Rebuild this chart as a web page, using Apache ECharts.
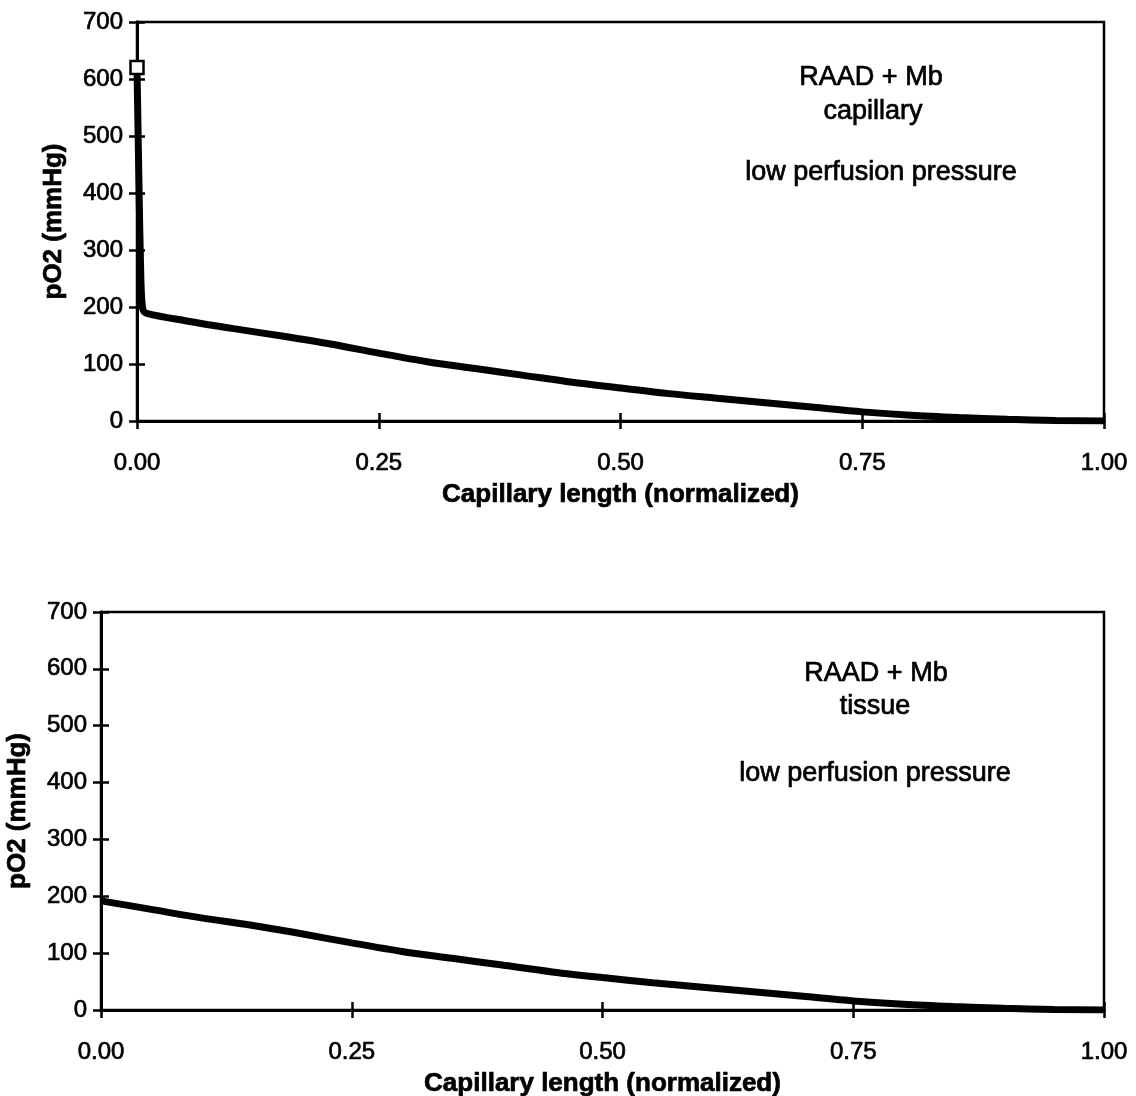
<!DOCTYPE html>
<html>
<head>
<meta charset="utf-8">
<title>pO2 along capillary</title>
<script src="https://cdn.jsdelivr.net/npm/echarts@6/dist/echarts.min.js"></script>
<style>
  html, body { margin: 0; padding: 0; background: #fff; }
  #main { width: 1136px; height: 1096px; }
</style>
</head>
<body>
<div id="main"></div>
<script>
// capillary length (normalized) and pO2 (mmHg)
var lengthCapillary = [0, 0.002, 0.004, 0.006, 0.01, 0.05, 0.1, 0.15, 0.2, 0.25, 0.3, 0.35, 0.4, 0.45, 0.5, 0.55, 0.6, 0.65, 0.7, 0.75, 0.8, 0.85, 0.9, 0.95, 1.0];
var po2Capillary = [620, 420, 250, 196, 189, 176, 162, 149, 135, 119, 104, 92, 80, 68, 58, 48, 40, 32, 24, 16, 10, 6, 3, 1, 0];
var lengthTissue = [0, 0.05, 0.1, 0.15, 0.2, 0.25, 0.3, 0.35, 0.4, 0.45, 0.5, 0.55, 0.6, 0.65, 0.7, 0.75, 0.8, 0.85, 0.9, 0.95, 1.0];
var po2Tissue = [192, 177, 162, 149, 134, 118, 103, 91, 79, 67, 57, 48, 40, 32, 24, 16, 10, 6, 3, 1, 0];
var startMarker = [[0, 620]];

var topNotes = ['RAAD + Mb', 'capillary', 'low perfusion pressure'];
var bottomNotes = ['RAAD + Mb', 'tissue', 'low perfusion pressure'];

var FONT = '"Liberation Sans", Arial, Helvetica, sans-serif';
//扫描件文字偏粗，用细描边加粗
var INK = { textBorderColor: '#000', textBorderWidth: 0.7 };

function pairs(xs, ys) {
    var out = [];
    for (var i = 0; i < xs.length; i++) {
        out.push([xs[i], ys[i]]);
    }
    return out;
}

//主坐标轴（带标签、外侧刻度）
function xMain(gi) {
    return {
        type: 'value', gridIndex: gi, min: 0, max: 1, interval: 0.25,
        name: 'Capillary length (normalized)', nameLocation: 'middle', nameGap: 61,
        nameTextStyle: Object.assign({ fontFamily: FONT, fontSize: 26, fontWeight: 'bold', color: '#000' }, INK),
        axisLine: { show: true, lineStyle: { color: '#000', width: 3 } },
        axisTick: { show: true, length: 8, lineStyle: { color: '#000', width: 2.5 } },
        axisLabel: Object.assign({
            fontFamily: FONT, fontSize: 24, color: '#000', margin: 30,
            formatter: function (v) { return v.toFixed(2); }
        }, INK),
        splitLine: { show: false }
    };
}
function yMain(gi) {
    return {
        type: 'value', gridIndex: gi, min: 0, max: 700, interval: 100,
        name: 'pO2 (mmHg)', nameLocation: 'middle', nameGap: 70, nameRotate: 90,
        nameTextStyle: Object.assign({ fontFamily: FONT, fontSize: 26, fontWeight: 'bold', color: '#000' }, INK),
        axisLine: { show: true, lineStyle: { color: '#000', width: 3 } },
        axisTick: { show: true, length: 8, lineStyle: { color: '#000', width: 2.5 } },
        axisLabel: Object.assign({ fontFamily: FONT, fontSize: 24, color: '#000', margin: 14 }, INK),
        splitLine: { show: false }
    };
}
//辅助坐标轴：只画内侧刻度，使刻度穿过轴线
function xInner(gi) {
    return {
        type: 'value', gridIndex: gi, min: 0, max: 1, interval: 0.25, position: 'bottom',
        axisLine: { show: true, onZero: false, lineStyle: { color: '#000', width: 3 } },
        axisTick: { show: true, inside: true, length: 8, lineStyle: { color: '#000', width: 2.5 } },
        axisLabel: { show: false }, splitLine: { show: false }
    };
}
function yInner(gi) {
    return {
        type: 'value', gridIndex: gi, min: 0, max: 700, interval: 100, position: 'left',
        axisLine: { show: true, onZero: false, lineStyle: { color: '#000', width: 3 } },
        axisTick: { show: true, inside: true, length: 8, lineStyle: { color: '#000', width: 2.5 } },
        axisLabel: { show: false }, splitLine: { show: false }
    };
}

function notes(lines, cx, ys) {
    return lines.map(function (t, i) {
        return {
            type: 'text', x: cx[i], y: ys[i], z: 10,
            style: {
                text: t, fill: '#000', align: 'center', verticalAlign: 'middle',
                font: '27px ' + FONT, stroke: '#000', lineWidth: 0.7
            }
        };
    });
}

var chart = echarts.init(document.getElementById('main'), null, { renderer: 'canvas' });
var option = {
    backgroundColor: '#fff',
    animation: false,
    grid: [
        { left: 137, top: 22, width: 967, height: 399, outerBoundsMode: 'none', containLabel: false, show: true, borderColor: '#000', borderWidth: 2.5, backgroundColor: 'transparent' },
        { left: 101, top: 612, width: 1003, height: 398, outerBoundsMode: 'none', containLabel: false, show: true, borderColor: '#000', borderWidth: 2.5, backgroundColor: 'transparent' }
    ],
    xAxis: [xMain(0), xMain(1), xInner(0), xInner(1)],
    yAxis: [yMain(0), yMain(1), yInner(0), yInner(1)],
    graphic: notes(topNotes, [871, 873, 881], [78, 112, 173])
        .concat(notes(bottomNotes, [876, 875, 875], [674, 707, 774])),
    series: [
        {
            type: 'line', xAxisIndex: 0, yAxisIndex: 0,
            data: pairs(lengthCapillary, po2Capillary),
            symbol: 'none', smooth: 0.3,
            lineStyle: { color: '#000', width: 7 }
        },
        {
            type: 'scatter', xAxisIndex: 0, yAxisIndex: 0, z: 5,
            data: startMarker, symbol: 'rect', symbolSize: 13,
            itemStyle: { color: '#fff', borderColor: '#000', borderWidth: 2.5, opacity: 1 }
        },
        {
            type: 'line', xAxisIndex: 1, yAxisIndex: 1,
            data: pairs(lengthTissue, po2Tissue),
            symbol: 'none', smooth: 0.3,
            lineStyle: { color: '#000', width: 7 }
        }
    ]
};
chart.setOption(option);
</script>
</body>
</html>
